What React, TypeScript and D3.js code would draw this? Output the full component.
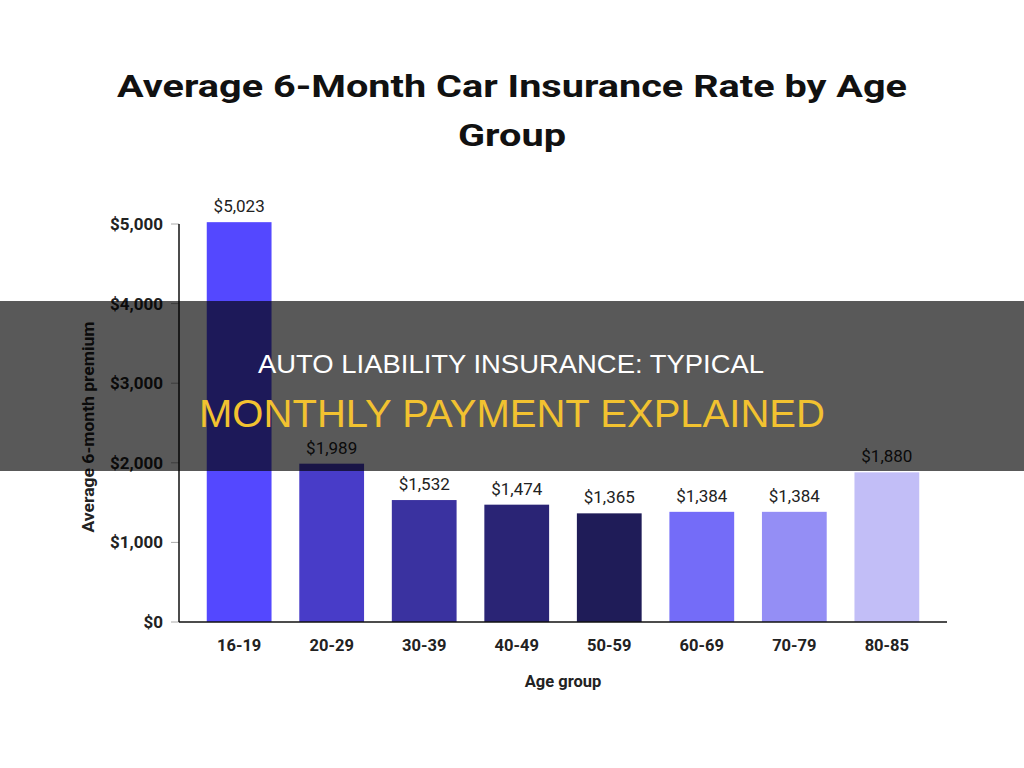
import React from "react";
import * as d3 from "d3";

const ageGroups = ["16-19", "20-29", "30-39", "40-49", "50-59", "60-69", "70-79", "80-85"];
const premiums = [5023, 1989, 1532, 1474, 1365, 1384, 1384, 1880];
const barColors = ["#5448FF", "#483CC8", "#3A32A0", "#2A2475", "#1F1C58", "#746CF8", "#948EF5", "#C2BEF7"];
const yTicks = [0, 1000, 2000, 3000, 4000, 5000];
const titleLines = ["Average 6-Month Car Insurance Rate by Age", "Group"];
const overlayLines = ["AUTO LIABILITY INSURANCE: TYPICAL", "MONTHLY PAYMENT EXPLAINED"];

const W = 1024;
const H = 768;
const left = 179;
const right = 947;
const top = 224;
const bottom = 622;

export default function App() {
  const x = d3.scaleBand<string>().domain(ageGroups).range([left, right]).paddingInner(0.3).paddingOuter(0.3);
  const y = d3.scaleLinear().domain([0, 5000]).range([bottom, top]);
  const money = (v: number) => "$" + d3.format(",")(v);
  const font = "Roboto, 'Noto Sans', sans-serif";
  const overlayFont = "'Liberation Sans', Arial, sans-serif";

  return (
    <svg width={W} height={H} style={{ position: "absolute", left: 0, top: 0, background: "#fff" }} fontFamily={font}>
      <rect x={0} y={0} width={W} height={H} fill="#fff" />
      <text x={512} y={97} textAnchor="middle" fontSize={32} fontWeight={700} fill="#111" textLength={790} lengthAdjust="spacingAndGlyphs">
        {titleLines[0]}
      </text>
      <text x={512} y={146} textAnchor="middle" fontSize={32} fontWeight={700} fill="#111" textLength={108} lengthAdjust="spacingAndGlyphs">
        {titleLines[1]}
      </text>
      {/* y ticks */}
      {yTicks.map((t) => (
        <g key={t}>
          <line x1={left - 8} x2={left} y1={y(t)} y2={y(t)} stroke="#aaa" strokeWidth={1} />
          <text x={left - 16} y={y(t)} dy="0.35em" textAnchor="end" fontSize={17} fontWeight={700} fill="#222">
            {money(t)}
          </text>
        </g>
      ))}
      {/* bars */}
      {ageGroups.map((g, i) => (
        <g key={g}>
          <rect x={x(g)} y={y(premiums[i])} width={x.bandwidth()} height={bottom - y(premiums[i])} fill={barColors[i]} />
          <text x={(x(g) as number) + x.bandwidth() / 2} y={y(premiums[i]) - 10} textAnchor="middle" fontSize={17} fill="#222">
            {money(premiums[i])}
          </text>
          <text x={(x(g) as number) + x.bandwidth() / 2} y={651} textAnchor="middle" fontSize={16.5} fontWeight={700} fill="#222">
            {g}
          </text>
        </g>
      ))}
      <line x1={left} x2={left} y1={top} y2={bottom} stroke="#111" strokeWidth={1.5} />
      <line x1={left} x2={right} y1={bottom} y2={bottom} stroke="#111" strokeWidth={1.5} />
      <text x={(left + right) / 2} y={687} textAnchor="middle" fontSize={16.5} fontWeight={700} fill="#222">
        Age group
      </text>
      <text transform={`translate(94, 427) rotate(-90)`} textAnchor="middle" fontSize={16} fontWeight={700} fill="#222" textLength={211} lengthAdjust="spacingAndGlyphs">
        Average 6-month premium
      </text>
      {/* overlay */}
      <rect x={0} y={301} width={W} height={170} fill="#000" opacity={0.65} />
      <text x={511} y={373} textAnchor="middle" fontSize={25} fill="#fff" fontFamily={overlayFont} textLength={506} lengthAdjust="spacingAndGlyphs">
        {overlayLines[0]}
      </text>
      <text x={512} y={427} textAnchor="middle" fontSize={38} fill="#F2C230" fontFamily={overlayFont} textLength={626} lengthAdjust="spacingAndGlyphs">
        {overlayLines[1]}
      </text>
    </svg>
  );
}
